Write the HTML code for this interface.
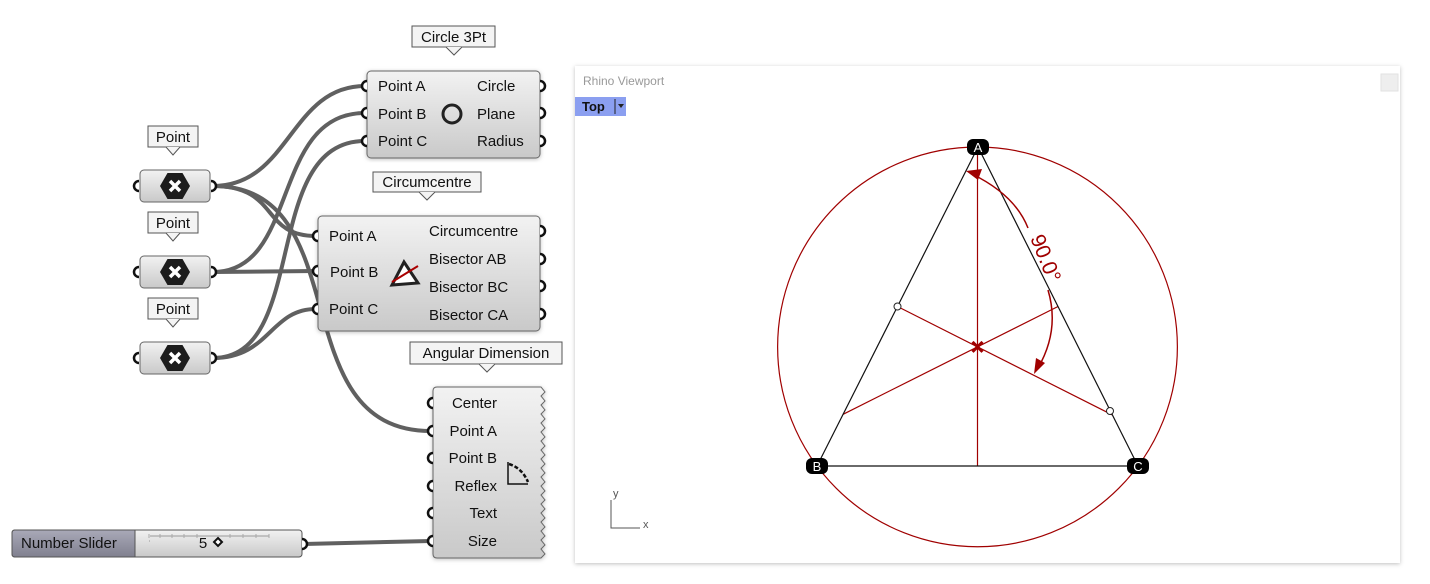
<!DOCTYPE html>
<html><head><meta charset="utf-8"><style>
html,body{margin:0;padding:0;background:#fff;width:1430px;height:584px;overflow:hidden}
svg{display:block;font-family:"Liberation Sans","DejaVu Sans",sans-serif}
</style></head><body>
<svg id="s" width="1430" height="584" viewBox="0 0 1430 584">
<defs>
<linearGradient id="cg" x1="0" y1="0" x2="0" y2="1"><stop offset="0" stop-color="#f2f2f2"/><stop offset="1" stop-color="#c9c9c9"/></linearGradient>
<linearGradient id="sg" x1="0" y1="0" x2="0" y2="1"><stop offset="0" stop-color="#a9a9b8"/><stop offset="1" stop-color="#80808f"/></linearGradient>
<filter id="sh" x="-5%" y="-5%" width="110%" height="110%"><feDropShadow dx="0" dy="1" stdDeviation="2" flood-color="#000" flood-opacity="0.25"/></filter>
</defs>

<!-- wires -->
<g fill="none" stroke="#606060" stroke-width="4">
<path d="M213,186 C290,186 290,86 365,86"/>
<path d="M213,186 C280,186 260,236 316,236"/>
<path d="M213,186 C360,186 280,431 431,431"/>
<path d="M213,272 C300,272 270,113 365,113"/>
<path d="M213,272 L316,271"/>
<path d="M213,358 C310,358 260,141 365,141"/>
<path d="M213,358 C270,358 270,309 316,309"/>
<path d="M304,544 L431,541"/>
</g>

<!-- point params -->
<g id="pts"></g>

<!-- Circle 3Pt -->
<g font-size="15" fill="#111">
<rect x="412" y="26" width="83" height="21" fill="#f4f4f4" stroke="#555"/>
<path d="M446,47 L454,55 L462,47" fill="#f4f4f4" stroke="#555"/>
<text x="453.5" y="42" text-anchor="middle">Circle 3Pt</text>
<rect x="367" y="71" width="173" height="87" rx="4" fill="url(#cg)" stroke="#666" filter="url(#sh)"/>
<text x="378" y="91">Point A</text><text x="378" y="119">Point B</text><text x="378" y="146">Point C</text>
<text x="477" y="91">Circle</text><text x="477" y="119">Plane</text><text x="477" y="146">Radius</text>
<circle cx="452" cy="114" r="9" fill="none" stroke="#222" stroke-width="3"/>
</g>

<!-- Circumcentre -->
<g font-size="15" fill="#111">
<rect x="373" y="172" width="108" height="20" fill="#f4f4f4" stroke="#555"/>
<path d="M419,192 L427,200 L435,192" fill="#f4f4f4" stroke="#555"/>
<text x="427" y="187" text-anchor="middle">Circumcentre</text>
<rect x="318" y="216" width="222" height="115" rx="4" fill="url(#cg)" stroke="#666" filter="url(#sh)"/>
<text x="329" y="241">Point A</text><text x="330" y="277">Point B</text><text x="329" y="314">Point C</text>
<text x="429" y="236">Circumcentre</text><text x="429" y="264">Bisector AB</text><text x="429" y="292">Bisector BC</text><text x="429" y="320">Bisector CA</text>
<path d="M404,262 L418,283 L392,285 Z" fill="#fff" stroke="#222" stroke-width="3"/>
<path d="M392,282 L418,266" stroke="#a00" stroke-width="2"/>
</g>

<!-- Angular Dimension -->
<g font-size="15" fill="#111">
<rect x="410" y="342" width="152" height="22" fill="#f4f4f4" stroke="#555"/>
<path d="M479,364 L487,372 L495,364" fill="#f4f4f4" stroke="#555"/>
<text x="486" y="358" text-anchor="middle">Angular Dimension</text>
<path d="M437,387 L541,387 L545,392 L541,396 L545,401 L541,405 L545,410 L541,414 L545,419 L541,423 L545,428 L541,432 L545,437 L541,441 L545,446 L541,450 L545,455 L541,459 L545,464 L541,468 L545,473 L541,477 L545,482 L541,486 L545,491 L541,495 L545,500 L541,504 L545,509 L541,513 L545,518 L541,522 L545,527 L541,531 L545,536 L541,540 L545,545 L541,549 L545,554 L541,558 L437,558 Q433,558 433,554 L433,391 Q433,387 437,387 Z" fill="url(#cg)" stroke="#666" filter="url(#sh)"/>
<g text-anchor="end"><text x="497" y="408">Center</text><text x="497" y="436">Point A</text><text x="497" y="463">Point B</text><text x="497" y="491">Reflex</text><text x="497" y="518">Text</text><text x="497" y="546">Size</text></g>
<path d="M508,462 L508,484 L528,484" fill="none" stroke="#111" stroke-width="1.5"/>
<path d="M509,464 Q522,468 528,482" fill="none" stroke="#111" stroke-width="2.5" stroke-dasharray="4 2"/>
</g>

<!-- Number slider -->
<g>
<rect x="12" y="530" width="290" height="27" rx="3" fill="url(#cg)" stroke="#555"/>
<path d="M15,530 L135,530 L135,557 L15,557 Q12,557 12,554 L12,533 Q12,530 15,530 Z" fill="url(#sg)" stroke="#555"/>
<text x="21" y="548" font-size="15" fill="#111">Number Slider</text>
<path d="M149,541 L150,541 M150,536 L269,536" stroke="#999"/>
<g stroke="#aaa"><path d="M149,534 V538 M160,534 V538 M172,534 V538 M184,534 V538 M197,534 V538 M230,534 V538 M243,534 V538 M256,534 V538 M269,534 V538"/></g>
<text x="203" y="548" font-size="15" fill="#111" text-anchor="middle">5</text>
<path d="M218,538 L222,542 L218,546 L214,542 Z" fill="#fff" stroke="#111" stroke-width="2"/>
</g>

<!-- grips -->
<g id="grips" fill="#fff" stroke="#111" stroke-width="2.5"></g>

<!-- viewport -->
<g>
<rect x="575" y="66" width="825" height="497" fill="#fff" filter="url(#sh)"/>
<text x="583" y="85" font-size="12" fill="#999">Rhino Viewport</text>
<rect x="1381" y="74" width="17" height="17" fill="#eee" stroke="#e2e2e2"/>
<rect x="575" y="97" width="51" height="19" fill="#8b9ff0"/>
<text x="582" y="111" font-size="13" font-weight="bold" fill="#111">Top</text>
<line x1="615" y1="99" x2="615" y2="114" stroke="#222"/>
<path d="M618,104 L624,104 L621,108 Z" fill="#222"/>
<g stroke="#555" fill="none"><path d="M611,500 V528 H640"/></g>
<text x="613" y="497" font-size="11" fill="#555">y</text>
<text x="643" y="528" font-size="11" fill="#555">x</text>
<g id="geo"></g>
</g>
</svg>
<script>
// geometry data (model units)
const vertexNames = ['A','B','C'];
const vertexX = [978, 817, 1138];
const vertexY = [147, 466, 466];
const angleLabel = ['90.0°'];
const pointParamY = [186, 272, 358];

const NS='http://www.w3.org/2000/svg';
function mk(tag,attrs,parent){const e=document.createElementNS(NS,tag);for(const k in attrs)e.setAttribute(k,attrs[k]);parent.appendChild(e);return e;}

// point params
const pts=document.getElementById('pts');
pointParamY.forEach((y,i)=>{
  const g=mk('g',{},pts);
  
  
  mk('rect',{x:148,y:y-60,width:50,height:21,fill:'#f4f4f4',stroke:'#555'},g);
  mk('path',{d:`M166,${y-39} L173,${y-31} L180,${y-39}`,fill:'#f4f4f4',stroke:'#555'},g);
  const t=mk('text',{x:173,y:y-44,'font-size':15,'text-anchor':'middle',fill:'#111'},g);t.textContent='Point';
  mk('rect',{x:140,y:y-16,width:70,height:32,rx:4,fill:'url(#cg)',stroke:'#666'},g);
  let hp='';for(let k=0;k<6;k++){const a=Math.PI/3*k;hp+=(k?'L':'M')+(175+15*Math.cos(a)).toFixed(1)+','+(y+15*Math.sin(a)).toFixed(1);}
  mk('path',{d:hp+'Z',fill:'#1c1c1c'},g);
  mk('path',{d:`M170,${y-5} L180,${y+5} M180,${y-5} L170,${y+5}`,stroke:'#fff','stroke-width':3.5},g);
});

// grips
const grips=document.getElementById('grips');
const gripPts=[[137,186],[213,186],[137,272],[213,272],[137,358],[213,358],[365,86],[365,113],[365,141],[542,86],[542,113],[542,141],[316,236],[316,271],[316,309],[542,231],[542,259],[542,286],[542,314],[431,403],[431,431],[431,458],[431,486],[431,513],[431,541],[304,544]];
gripPts.forEach(p=>{const c=mk('path',{d:`M${p[0]+2},${p[1]-5} A5,5 0 0 0 ${p[0]+2},${p[1]+5}`},grips);
  if(p[0]>200&&[213,542,304].includes(p[0]))c.setAttribute('d',`M${p[0]-2},${p[1]-5} A5,5 0 0 1 ${p[0]-2},${p[1]+5}`);
  
  });

// geometry
const geo=document.getElementById('geo');
const red='#a00000';
// circumcircle
const ax=vertexX[0],ay=vertexY[0],bx=vertexX[1],by=vertexY[1],cx=vertexX[2],cy=vertexY[2];
const d=2*(ax*(by-cy)+bx*(cy-ay)+cx*(ay-by));
const ox=((ax*ax+ay*ay)*(by-cy)+(bx*bx+by*by)*(cy-ay)+(cx*cx+cy*cy)*(ay-by))/d;
const oy=((ax*ax+ay*ay)*(cx-bx)+(bx*bx+by*by)*(ax-cx)+(cx*cx+cy*cy)*(bx-ax))/d;
const R=Math.hypot(ax-ox,ay-oy);
const circ=mk('circle',{cx:ox,cy:oy,r:R,fill:'none',stroke:red,'stroke-width':1.2},geo);


// bisectors: from each edge midpoint through centre to opposite intersection with triangle
const edges=[[0,1],[1,2],[2,0]];
function segInt(px,py,dx,dy,x1,y1,x2,y2){const ex=x2-x1,ey=y2-y1;const den=dx*ey-dy*ex;if(Math.abs(den)<1e-9)return null;const t=((x1-px)*ey-(y1-py)*ex)/den;const u=((x1-px)*dy-(y1-py)*dx)/den;return (u>=-1e-6&&u<=1+1e-6&&t>1e-3)?t:null;}
edges.forEach((e,i)=>{
  const mx=(vertexX[e[0]]+vertexX[e[1]])/2,my=(vertexY[e[0]]+vertexY[e[1]])/2;
  const dx=ox-mx,dy=oy-my;let best=null;
  edges.forEach(f=>{if(f===e)return;const t=segInt(mx,my,dx,dy,vertexX[f[0]],vertexY[f[0]],vertexX[f[1]],vertexY[f[1]]);if(t!==null&&(best===null||t<best))best=t;});
  const ex2=best?mx+dx*best:ox,ey2=best?my+dy*best:oy;
  const l=mk('line',{x1:mx,y1:my,x2:ex2,y2:ey2,stroke:red,'stroke-width':1.2},geo);
  
  
});
// triangle
edges.forEach(e=>{const l=mk('line',{x1:vertexX[e[0]],y1:vertexY[e[0]],x2:vertexX[e[1]],y2:vertexY[e[1]],stroke:'#111','stroke-width':1.2},geo);
  
  });
// small points at midpoints AB and CA
[[0,1],[0,2]].forEach(e=>{const mx=(vertexX[e[0]]+vertexX[e[1]])/2,my=(vertexY[e[0]]+vertexY[e[1]])/2;
  const sx=e[1]===2?mx+52*(1):mx, sy=e[1]===2?my+105:my;
  const c=mk('circle',{cx:e[1]===2?1110:mx,cy:e[1]===2?411:my,r:3.5,fill:'#fff',stroke:'#222'},geo);
  
  });
// centre
const cm=mk('path',{d:`M${ox-5},${oy-5} L${ox+5},${oy+5} M${ox+5},${oy-5} L${ox-5},${oy+5}`,stroke:red,'stroke-width':3},geo);


// angle dimension
const arc=mk('path',{d:`M972,174 Q1015,195 1028,228 M1048,290 Q1060,330 1038,368`,fill:'none',stroke:red,'stroke-width':1.5},geo);


mk('path',{d:'M966,171 L982,169 L978,180 Z',fill:red},geo);
mk('path',{d:'M1034,374 L1036,358 L1045,363 Z',fill:red},geo);
const at=mk('text',{x:0,y:0,'font-size':21,fill:red,transform:`translate(1030,238) rotate(68)`},geo);
at.textContent=angleLabel[0];


// vertex tags
vertexNames.forEach((n,i)=>{const g=mk('g',{},geo);
  
  
  mk('rect',{x:vertexX[i]-11,y:vertexY[i]-8,width:22,height:16,rx:6,fill:'#000'},g);
  const t=mk('text',{x:vertexX[i],y:vertexY[i]+5,'font-size':13,fill:'#fff','text-anchor':'middle'},g);t.textContent=n;});
</script>
</body></html>
